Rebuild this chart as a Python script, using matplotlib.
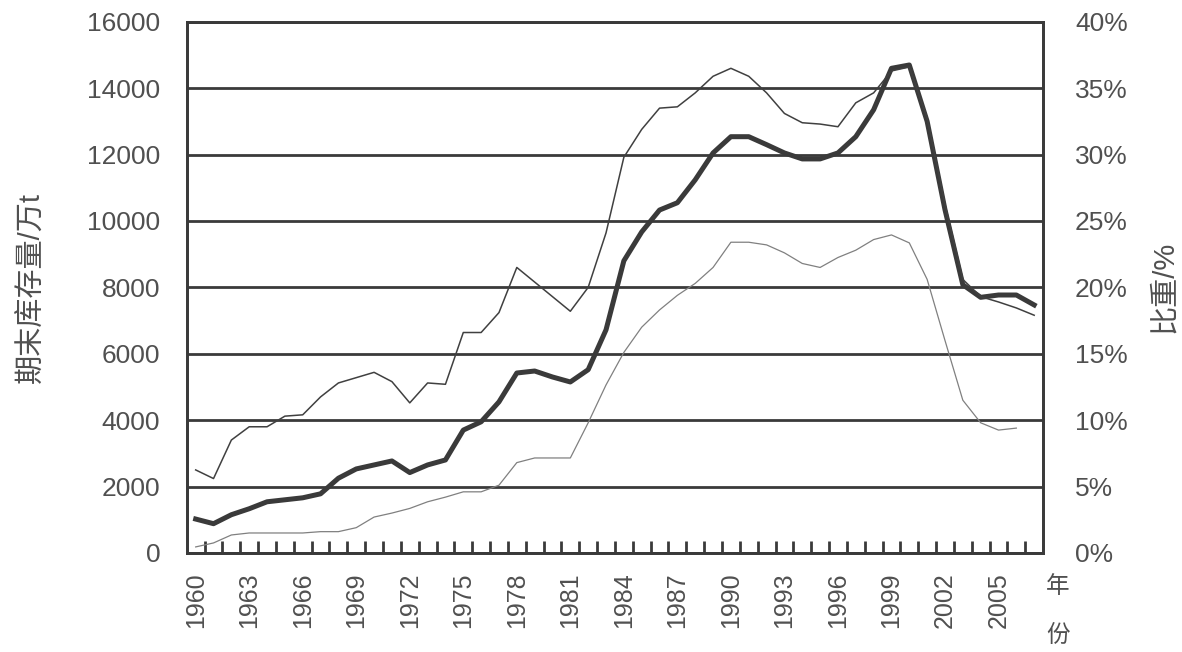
import numpy as np
import matplotlib.pyplot as plt
from matplotlib.ticker import FuncFormatter

plt.rcParams['font.family'] = ['Liberation Sans', 'Noto Sans CJK SC', 'DejaVu Sans']

# data
years = list(range(1960, 2008))

# 期末库存量 (万t), left axis
stock = [1020, 880, 1150, 1330, 1540, 1600, 1660, 1780, 2250, 2530,
         2650, 2770, 2420, 2650, 2800, 3700, 3950, 4550, 5420, 5480,
         5300, 5150, 5520, 6720, 8800, 9670, 10330, 10550, 11240, 12050,
         12540, 12540, 12300, 12050, 11870, 11870, 12050, 12540, 13350, 14600,
         14700, 13000, 10340, 8080, 7700, 7770, 7770, 7470]

# 比重 (%), right axis - thin dark line
ratio_a = [6.25, 5.6, 8.5, 9.5, 9.5, 10.3, 10.4, 11.75, 12.8, 13.2,
           13.6, 12.9, 11.3, 12.8, 12.7, 16.6, 16.6, 18.1, 21.5, 20.4,
           19.3, 18.2, 20.0, 24.1, 29.8, 31.9, 33.5, 33.6, 34.65, 35.9,
           36.5, 35.9, 34.65, 33.1, 32.4, 32.3, 32.1, 33.9, 34.65, 36.3,
           36.6, 32.75, 26.25, 20.6, 19.3, 18.9, 18.45, 17.9]

# 比重 (%), right axis - thin grey line (ends 2006)
years_b = list(range(1960, 2007))
ratio_b = [0.45, 0.75, 1.35, 1.5, 1.5, 1.5, 1.5, 1.6, 1.6, 1.9,
           2.7, 3.0, 3.35, 3.85, 4.2, 4.6, 4.6, 5.1, 6.8, 7.15,
           7.15, 7.15, 9.8, 12.65, 15.1, 17.0, 18.3, 19.4, 20.3, 21.5,
           23.4, 23.4, 23.2, 22.6, 21.8, 21.5, 22.25, 22.8, 23.6, 23.95,
           23.35, 20.6, 16.0, 11.5, 9.8, 9.25, 9.4]

label_years = list(range(1960, 2006, 3))

dark = '#3a3a3a'
txt = '#505050'

fig = plt.figure(figsize=(11.82, 6.52), dpi=100)
ax = fig.add_axes([0.158, 0.152, 0.7245, 0.8145])
ax2 = ax.twinx()

ax.plot(years, stock, color=dark, lw=3.6, solid_joinstyle='round', zorder=5)
ax2.plot(years, ratio_a, color='#404040', lw=1.1, zorder=4)
ax2.plot(years_b, ratio_b, color='#808080', lw=0.9, zorder=3)

ax.set_xlim(1959.5, 2007.5)
ax.set_ylim(0, 16000)
ax2.set_ylim(0, 40)

# gridlines
ax.set_yticks(np.arange(0, 16001, 2000))
ax.grid(axis='y', color=dark, lw=2)
ax.set_axisbelow(True)

ax2.set_yticks(np.arange(0, 41, 5))
ax2.yaxis.set_major_formatter(FuncFormatter(lambda v, p: '%d%%' % v))

# x ticks: labels every 3 years, tick marks between years
ax.set_xticks(label_years)
ax.set_xticklabels([str(y) for y in label_years], rotation=90)
ax.set_xticks(np.arange(1960.5, 2007, 1), minor=True)
ax.tick_params(axis='x', which='major', length=0, pad=14, labelsize=18, labelcolor=txt)
ax.tick_params(axis='x', which='minor', direction='in', length=9, width=2, color=dark)
ax.tick_params(axis='y', length=0, pad=19, labelsize=19, labelcolor=txt)
ax2.tick_params(axis='y', length=0, pad=23, labelsize=19, labelcolor=txt)

for a in (ax, ax2):
    for s in a.spines.values():
        s.set_color(dark)
        s.set_linewidth(2)

ax.set_ylabel('期末库存量/万t', fontsize=21, color=txt, labelpad=30)
ax2.set_ylabel('比重/%', fontsize=21, color=txt, labelpad=16)

fig.text(0.895, 0.1, '年', fontsize=17, color=txt, ha='center', va='center')
fig.text(0.895, 0.025, '份', fontsize=17, color=txt, ha='center', va='center')

fig.savefig('out.png', dpi=100)
